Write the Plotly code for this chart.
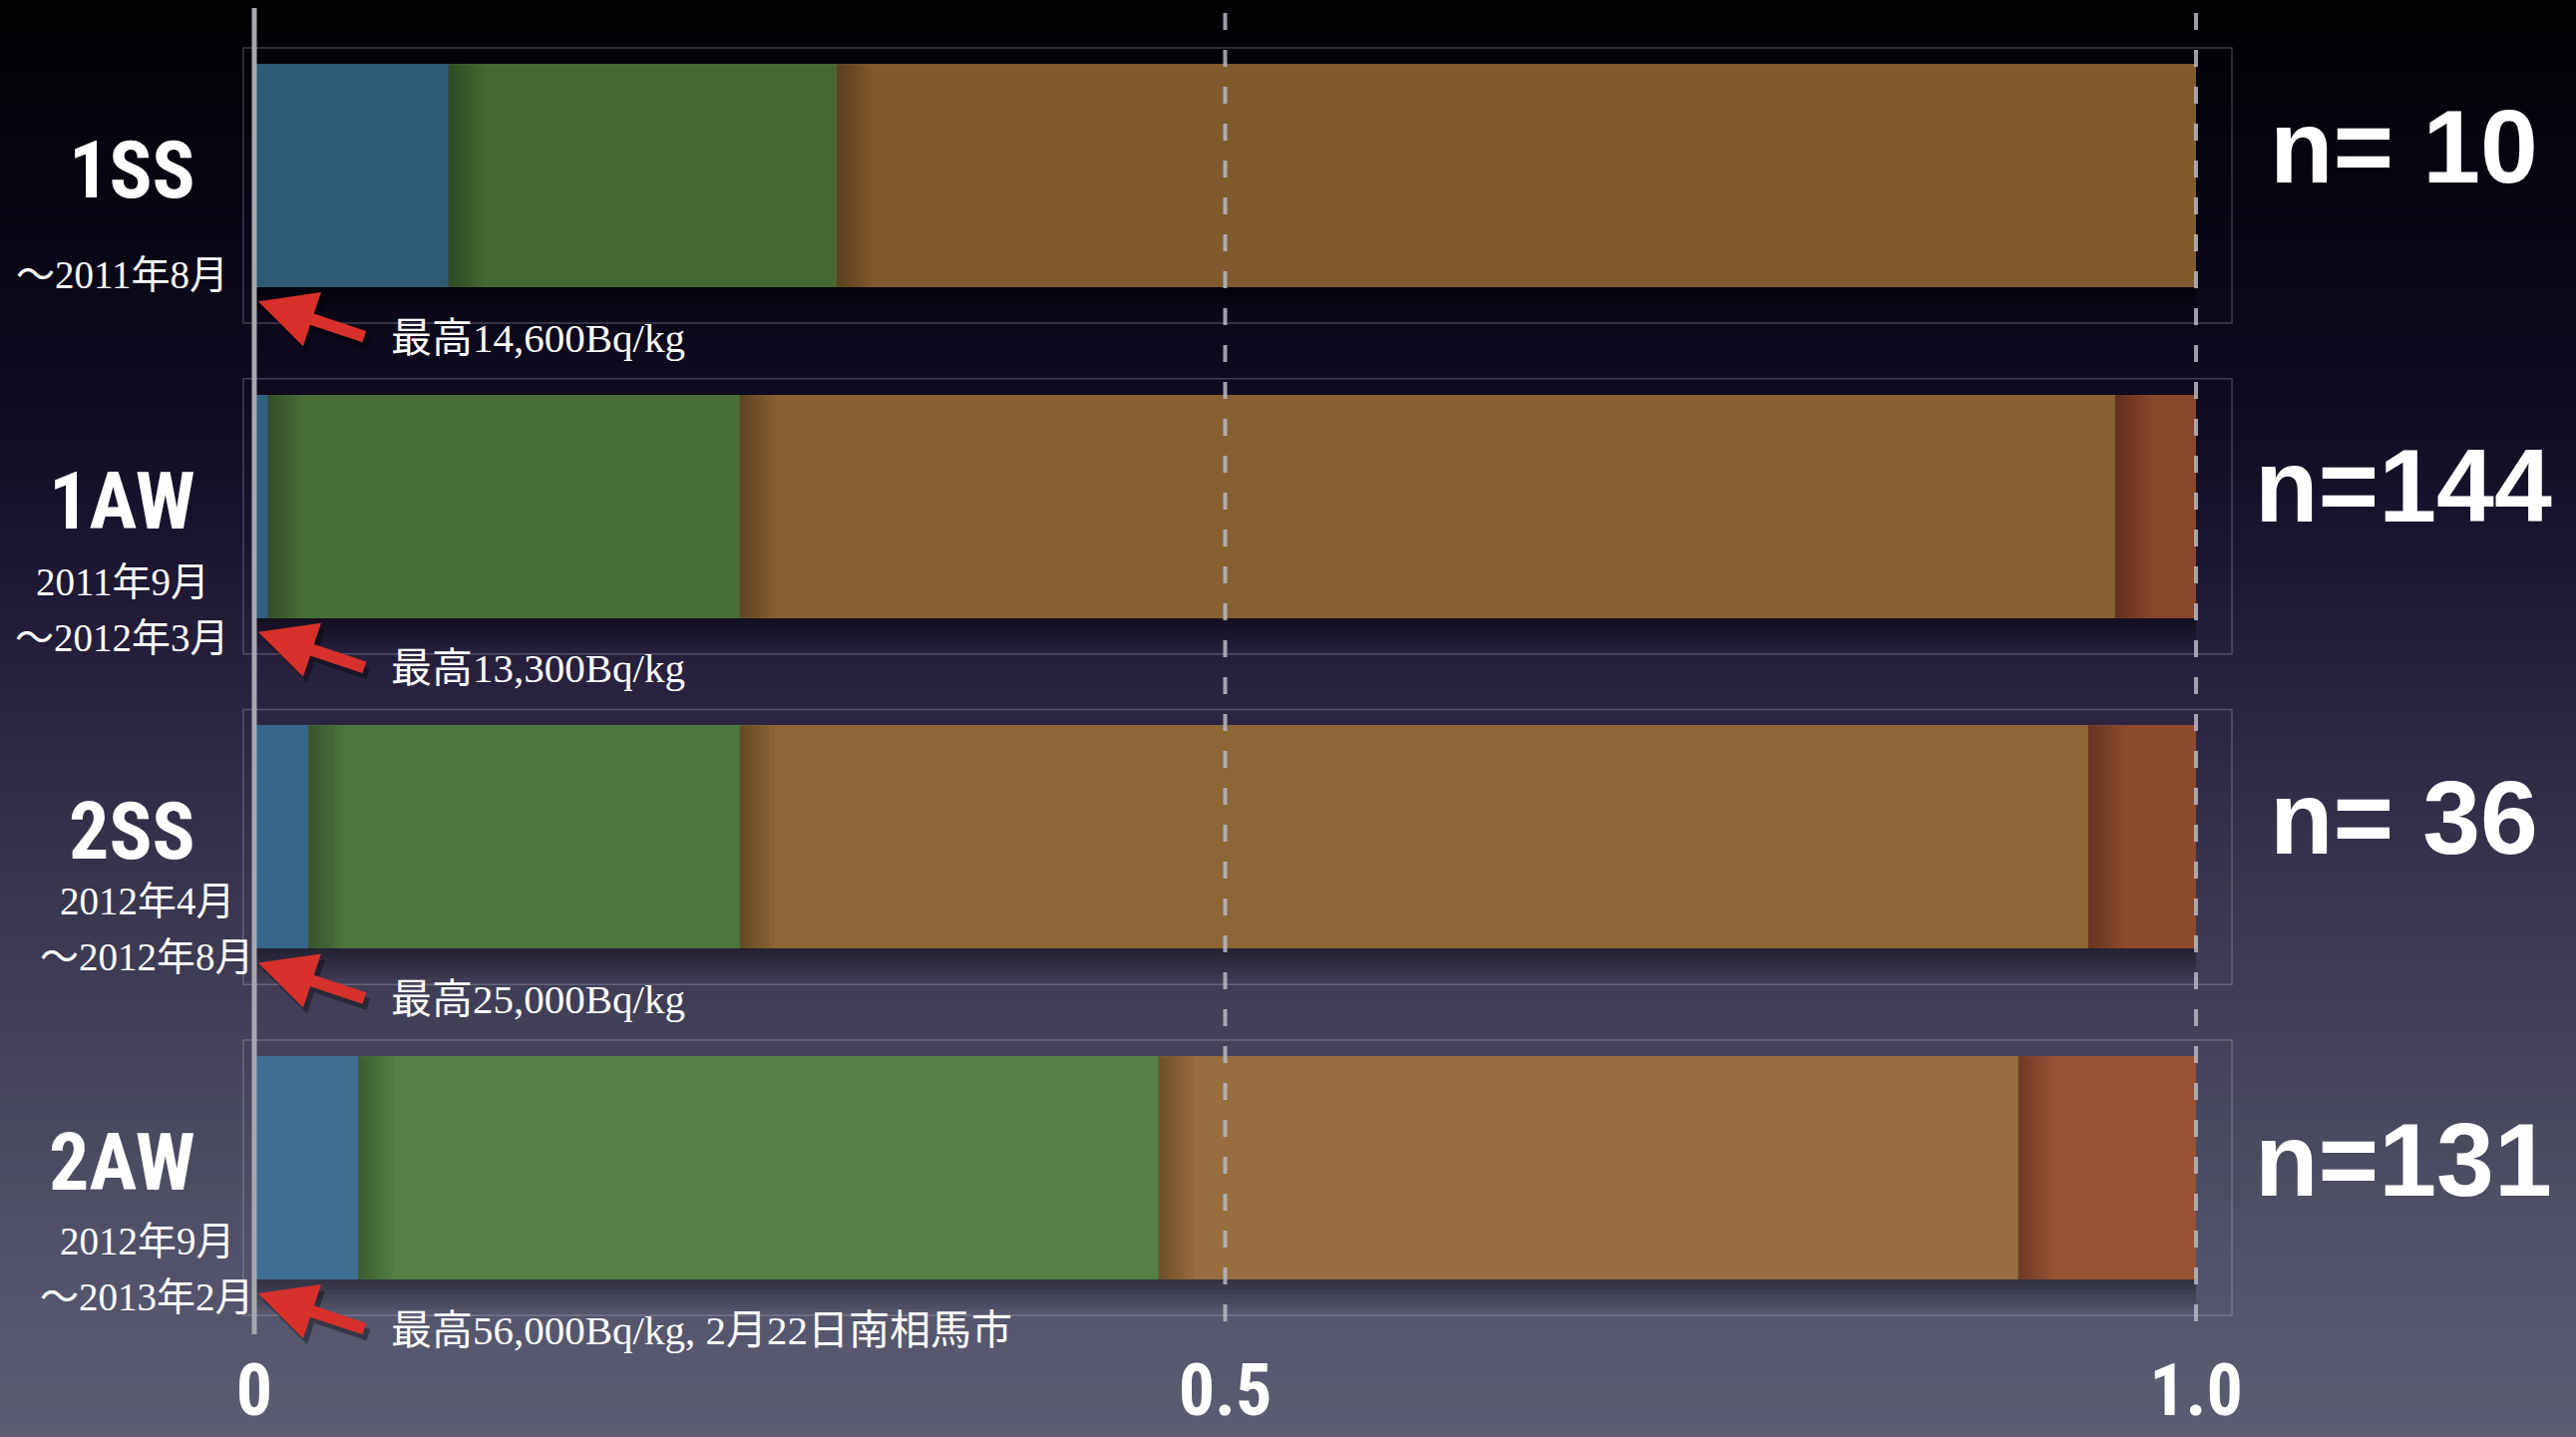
import plotly.graph_objects as go

# ---- data -------------------------------------------------------------
groups = ["1SS", "1AW", "2SS", "2AW"]
periods = [
    ["～2011年8月"],
    ["2011年9月", "～2012年3月"],
    ["2012年4月", "～2012年8月"],
    ["2012年9月", "～2013年2月"],
]
peak_notes = [
    "最高14,600Bq/kg",
    "最高13,300Bq/kg",
    "最高25,000Bq/kg",
    "最高56,000Bq/kg, 2月22日南相馬市",
]

# number of samples falling in each class, per group
class1_counts = [1, 1, 1, 7]
class2_counts = [2, 35, 8, 54]
class3_counts = [7, 102, 25, 58]
class4_counts = [0, 6, 2, 12]

series = [class1_counts, class2_counts, class3_counts, class4_counts]
totals = [sum(col) for col in zip(*series)]

x_tick_values = [0, 0.5, 1.0]
x_tick_labels = ["0", "0.5", "1.0"]

# ---- styling ----------------------------------------------------------
W, H = 2583, 1441
ML, MR, MT, MB = 255, 381, 0, 121
PW, PH = W - ML - MR, H - MT - MB

# slightly lighter shades lower down the slide
class_colors = [
    ["#2f5a73", "#335f80", "#37668a", "#3e6e92"],
    ["#456833", "#4a6e3a", "#4f7641", "#557f46"],
    ["#7f5a2d", "#876031", "#8d6636", "#986e3e"],
    ["#83432a", "#88462c", "#8e4a2f", "#9a5235"],
]

BAR_W = 0.675
Y_TOP, Y_BOTTOM = -0.531, 3.449
PX_X = 1.0 / PW               # one pixel in x data units
PX_Y = (Y_BOTTOM - Y_TOP) / PH  # one pixel in y data units

CHUNKY = "Roboto Condensed, Noto Sans Condensed, DejaVu Sans Mono, monospace"
SERIF = "Liberation Serif, Noto Sans CJK JP, serif"
WIDE = "Liberation Sans, Arial, sans-serif"


def ypaper(v):
    return (Y_BOTTOM - v) / (Y_BOTTOM - Y_TOP)


def hex_rgb(h):
    h = h.lstrip("#")
    return [int(h[i:i + 2], 16) for i in (0, 2, 4)]


fig = go.Figure()

positions = list(range(len(groups)))
fractions = [[c / n for c, n in zip(counts, totals)] for counts in series]
for k, frac in enumerate(fractions):
    fig.add_trace(go.Bar(
        orientation="h",
        y=positions,
        x=frac,
        width=BAR_W,
        marker=dict(color=class_colors[k], line=dict(width=0)),
        name=f"class {k + 1}",
        hoverinfo="skip",
    ))

shapes = []

# vertical background gradient, dark at the top to slate at the bottom
stops = [(0, "#020103"), (200, "#070512"), (400, "#0f0b20"), (550, "#1b1530"),
         (700, "#2a2340"), (850, "#36324b"), (1000, "#403e56"), (1150, "#4a4a61"),
         (1300, "#54556c"), (1450, "#5b5d73")]
STEP = 8
for top in range(0, H, STEP):
    mid = top + STEP / 2
    rgb = hex_rgb(stops[-1][1])
    for (p0, c0), (p1, c1) in zip(stops[:-1], stops[1:]):
        if p0 <= mid <= p1:
            t = (mid - p0) / (p1 - p0)
            a, b = hex_rgb(c0), hex_rgb(c1)
            rgb = [round(a[i] + (b[i] - a[i]) * t) for i in range(3)]
            break
    shapes.append(dict(
        type="rect", xref="paper", yref="paper", layer="below",
        x0=-ML / PW, x1=(W - ML) / PW,
        y0=1 - (top + STEP + 1) / PH, y1=1 - top / PH,
        fillcolor=f"rgb({rgb[0]},{rgb[1]},{rgb[2]})", line=dict(width=0),
    ))

# faint frames around each row
for i in positions:
    shapes.append(dict(
        type="rect", xref="paper", yref="y", layer="below",
        x0=-0.0057, x1=1.0185, y0=i - 0.386, y1=i + 0.446,
        line=dict(color="rgba(200,200,220,0.28)", width=1.5),
        fillcolor="rgba(0,0,0,0)",
    ))

# soft drop shadow under each bar (bottom-right)
for i in positions:
    total = sum(f[i] for f in fractions)
    for k in range(1, 7):
        shapes.append(dict(
            type="rect", xref="x", yref="y", layer="below",
            x0=0, x1=total + 4 * k * PX_X,
            y0=i - BAR_W / 2 + 2 * k * PX_Y, y1=i + BAR_W / 2 + 5 * k * PX_Y,
            fillcolor="rgba(0,0,0,0.07)", line=dict(width=0),
        ))

# each segment shades the left edge of the next one
for i in positions:
    left = 0.0
    for k in range(len(fractions) - 1):
        left += fractions[k][i]
        nxt = fractions[k + 1][i]
        if fractions[k][i] <= 0 or nxt <= 0:
            continue
        for s in range(1, 8):
            shapes.append(dict(
                type="rect", xref="x", yref="y", layer="above",
                x0=left, x1=left + min(nxt, 5 * s * PX_X),
                y0=i - BAR_W / 2, y1=i + BAR_W / 2,
                fillcolor="rgba(0,0,0,0.04)", line=dict(width=0),
            ))

# dashed reference lines at 0.5 and 1.0
for xv in (0.5, 1.0):
    shapes.append(dict(
        type="line", xref="paper", yref="paper", layer="above",
        x0=xv, x1=xv, y0=1 - 13 / PH, y1=1 - 1340 / PH,
        line=dict(color="rgba(185,185,195,0.85)", width=4, dash="17px,20px"),
    ))

# solid zero line
shapes.append(dict(
    type="line", xref="paper", yref="paper", layer="above",
    x0=0, x1=0, y0=1 - 8 / PH, y1=1 - 1338 / PH,
    line=dict(color="#a7a7ae", width=5),
))

annotations = []

period_x = [-0.068, -0.068, -0.055, -0.055]
period_y = [[0.30], [0.229, 0.398], [0.193, 0.362], [0.22, 0.389]]
n_y = [-0.087, -0.063, -0.06, -0.024]

for i, g in enumerate(groups):
    # group name
    annotations.append(dict(
        xref="paper", yref="paper", x=-0.0293, y=ypaper(i - 0.015),
        xanchor="right", yanchor="middle", showarrow=False,
        text=f"<b>{g}</b>", font=dict(family=CHUNKY, size=80, color="white"),
    ))
    # sampling period
    for line, yy in zip(periods[i], period_y[i]):
        annotations.append(dict(
            xref="paper", yref="paper", x=period_x[i], y=ypaper(i + yy),
            xanchor="center", yanchor="middle", showarrow=False,
            text=line, font=dict(family=SERIF, size=39, color="white"),
        ))
    # arrow shadow then arrow
    for dx, dy, col in ((4, 6, "rgba(0,0,0,0.35)"), (0, 0, "#d8302a")):
        annotations.append(dict(
            xref="paper", yref="paper",
            x=0.002 + dx / PW, y=ypaper(i + 0.38) - dy / PH,
            text="", showarrow=True, ax=108, ay=36,
            arrowhead=2, arrowsize=0.95, arrowwidth=12, arrowcolor=col,
        ))
    # peak value note
    annotations.append(dict(
        xref="paper", yref="paper", x=0.0693, y=ypaper(i + 0.49),
        xanchor="left", yanchor="middle", showarrow=False,
        text=peak_notes[i], font=dict(family=SERIF, size=41, color="white"),
    ))
    # sample size
    n_txt = f"n={totals[i]:>3}".replace(" ", "\u00a0")
    annotations.append(dict(
        xref="paper", yref="paper", x=1.107, y=ypaper(i + n_y[i]),
        xanchor="center", yanchor="middle", showarrow=False,
        text=f"<b>{n_txt}</b>", font=dict(family=WIDE, size=104, color="white"),
    ))

fig.update_layout(
    width=W, height=H,
    margin=dict(l=ML, r=MR, t=MT, b=MB, pad=0, autoexpand=False),
    paper_bgcolor="#2a2340",
    plot_bgcolor="rgba(0,0,0,0)",
    barmode="stack",
    showlegend=False,
    shapes=shapes,
    annotations=annotations,
    xaxis=dict(
        range=[0, 1], showgrid=False, zeroline=False, showline=False,
        automargin=False,
        tickvals=x_tick_values,
        ticktext=[f"<b>{t}</b>" for t in x_tick_labels],
        tickfont=dict(family=CHUNKY, size=72, color="white"),
        ticks="", ticklabelstandoff=26,
    ),
    yaxis=dict(range=[Y_BOTTOM, Y_TOP], visible=False, automargin=False),
)

fig.write_html("out.html", config={"displayModeBar": False})
